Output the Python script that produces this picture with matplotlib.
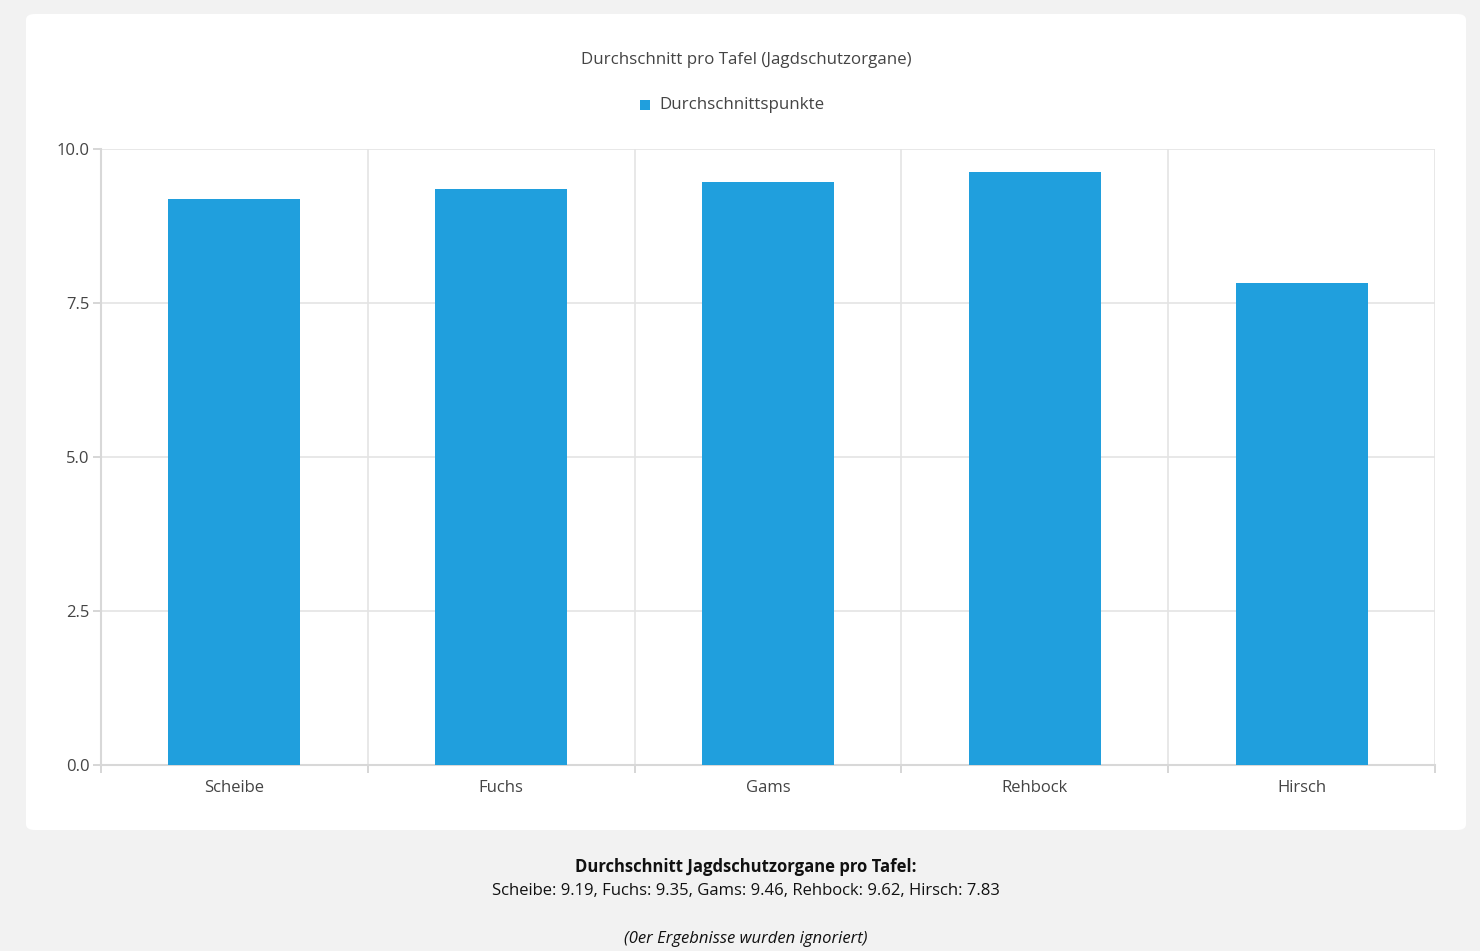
import numpy as np
import matplotlib.pyplot as plt
from matplotlib.patches import FancyBboxPatch, Rectangle

plt.rcParams['font.family'] = ['Open Sans', 'DejaVu Sans']

# Data
categories = ['Scheibe', 'Fuchs', 'Gams', 'Rehbock', 'Hirsch']
averages = [9.19, 9.35, 9.46, 9.62, 7.83]
yticks = [0.0, 2.5, 5.0, 7.5, 10.0]

bar_color = '#209fdd'
grid_color = '#e4e4e4'
text_color = '#444444'

W, H = 1480, 951
fig = plt.figure(figsize=(W / 100, H / 100), dpi=100)
fig.patch.set_facecolor('#f2f2f2')

# white card (behind the axes)
card = FancyBboxPatch((26 / W, (H - 830) / H), 1440 / W, 816 / H,
                      boxstyle='round,pad=0,rounding_size=0.006',
                      transform=fig.transFigure, facecolor='white',
                      edgecolor='none', zorder=-5)
fig.patches.append(card)

ax = fig.add_axes([101 / W, (H - 765) / H, 1334 / W, 616 / H])
ax.set_facecolor('none')
x = np.arange(len(categories))
ax.bar(x, averages, width=0.495, color=bar_color, zorder=3)

ax.set_xlim(-0.5, len(categories) - 0.5)
ax.set_ylim(0, 10)
ax.set_yticks(yticks)
ax.set_yticklabels([f'{v:.1f}' for v in yticks])
ax.set_xticks(x)
ax.set_xticklabels(categories)
ax.set_xticks(np.arange(-0.5, len(categories)), minor=True)

ax.tick_params(axis='x', which='major', length=0, pad=11,
               labelsize=12, labelcolor=text_color)
ax.tick_params(axis='x', which='minor', length=6, color='#d0d0d0', width=1.2)
ax.tick_params(axis='y', length=6, color='#d0d0d0', width=1.2, pad=2,
               labelsize=12, labelcolor=text_color)

ax.grid(axis='y', color=grid_color, linewidth=1.2, zorder=0)
ax.grid(axis='x', which='minor', color=grid_color, linewidth=1.2, zorder=0)
for s in ['top', 'right']:
    ax.spines[s].set_visible(False)
for s in ['left', 'bottom']:
    ax.spines[s].set_color('#d8d8d8')
    ax.spines[s].set_linewidth(1.5)

# title and legend
fig.text(746 / W, 1 - 60 / H, 'Durchschnitt pro Tafel (Jagdschutzorgane)',
         ha='center', va='center', fontsize=12.2, color=text_color)
fig.patches.append(Rectangle((640 / W, 1 - 110 / H), 10 / W, 10 / H,
                             transform=fig.transFigure, facecolor=bar_color,
                             edgecolor='none'))
fig.text(659 / W, 1 - 105 / H, 'Durchschnittspunkte', ha='left', va='center',
         fontsize=12.2, color=text_color)

# summary below the card
summary = ', '.join(f'{c}: {v:.2f}' for c, v in zip(categories, averages))
fig.text(746 / W, 1 - 867 / H, 'Durchschnitt Jagdschutzorgane pro Tafel:',
         ha='center', va='center', fontsize=12, fontweight='bold',
         color='#111111')
fig.text(746 / W, 1 - 891 / H, summary, ha='center', va='center',
         fontsize=12, color='#111111')
fig.text(746 / W, 1 - 939 / H, '(0er Ergebnisse wurden ignoriert)',
         ha='center', va='center', fontsize=12, style='italic',
         color='#111111')

fig.savefig('out.png', dpi=100, facecolor=fig.get_facecolor())
